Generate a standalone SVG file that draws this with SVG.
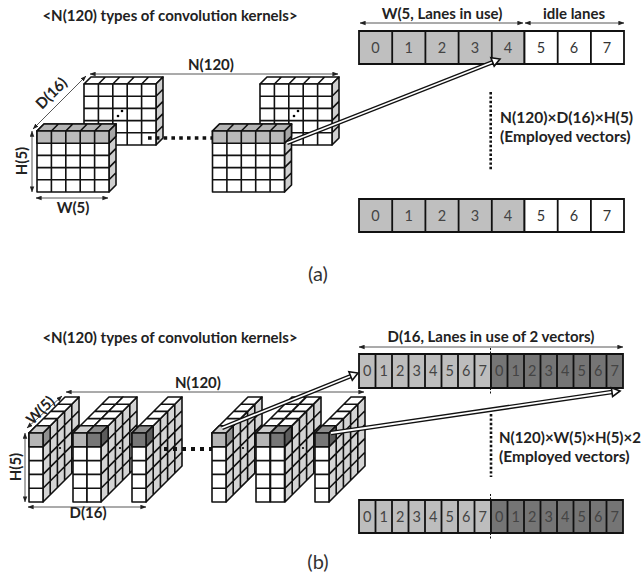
<svg xmlns="http://www.w3.org/2000/svg" width="644" height="576" viewBox="0 0 644 576">
<style>
text{font-family:"Lato","Open Sans","Liberation Sans",sans-serif;fill:#222}
.b{font-weight:700;font-size:15.5px}
.b2{font-weight:700;font-size:15px}
.c{font-weight:700;font-size:15px;text-anchor:middle}
.n{font-size:14.5px;text-anchor:middle;fill:#444}
.n2{font-size:14.5px;text-anchor:middle;fill:#333}
.cap{font-size:20px;text-anchor:middle;fill:#333}
.g{stroke:#111;stroke-width:1.6;fill:#fff;stroke-linejoin:round}
.dim{stroke:#444;stroke-width:.9;fill:none;marker-start:url(#ah);marker-end:url(#ah)}
.tk{stroke:#111;stroke-width:4.5;fill:none}
.wh{stroke:#fff;stroke-width:1.8;fill:none}
.hd{stroke:#111;stroke-width:1.6;fill:#fff}
.bar{stroke:#111;stroke-width:1.8}
</style>
<defs>
<marker id="ah" viewBox="0 0 8 6" refX="7.5" refY="3" markerWidth="6" markerHeight="5" orient="auto-start-reverse" markerUnits="userSpaceOnUse"><path d="M0 0L8 3L0 6z" fill="#222"/></marker>
<g id="cube">
<path class="g" d="M0 0h72l7-7h-72zM14.4 0l7-7M28.8 0l7-7M43.2 0l7-7M57.6 0l7-7"/>
<path class="g" style="fill:#cfcfcf" d="M72 0l7-7v61l-7 7zM72 12.2l7-7M72 24.4l7-7M72 36.6l7-7M72 48.8l7-7"/>
<path class="g" d="M0 0h72v61h-72zM14.4 0v61M28.8 0v61M43.2 0v61M57.6 0v61M0 12.2h72M0 24.4h72M0 36.6h72M0 48.8h72"/>
</g>
<g id="grow">
<path class="g" style="fill:#b4b4b4" d="M0 0h72l7-7h-72zM14.4 0l7-7M28.8 0l7-7M43.2 0l7-7M57.6 0l7-7"/>
<path class="g" style="fill:#a6a6a6" d="M72 0l7-7v12.2l-7 7z"/>
<path class="g" style="fill:#bababa" d="M0 0h72v12.2h-72zM14.4 0v12.2M28.8 0v12.2M43.2 0v12.2M57.6 0v12.2"/>
</g>
<g id="side">
<path class="g" style="fill:#d4d4d4" d="M0 0l36-36v69l-36 36zM7.2-7.2v69M14.4-14.4v69M21.6-21.6v69M28.8-28.8v69M0 13.8l36-36M0 27.6l36-36M0 41.4l36-36M0 55.2l36-36"/>
</g>
<g id="col">
<path class="g" d="M0 0h14l36-36h-14zM7.2-7.2h14M14.4-14.4h14M21.6-21.6h14M28.8-28.8h14"/>
<path class="g" d="M0 0h14v69h-14zM0 13.8h14M0 27.6h14M0 41.4h14M0 55.2h14"/>
</g>
<g id="cL"><path class="g" style="fill:#cdcdcd" d="M0 0h14l7.2-7.2h-14z"/><rect class="g" style="fill:#b5b5b5" width="14" height="13.800"/></g>
<g id="cD"><path class="g" style="fill:#8c8c8c" d="M0 0h14l7.2-7.2h-14z"/><path class="g" style="fill:#5c5c5c" d="M14 0l7.2-7.2v13.8l-7.2 7.2z"/><rect class="g" style="fill:#777" width="14" height="13.800"/></g>
<path id="sL" class="g" style="fill:#909090" d="M0 0l7.2-7.2v13.8l-7.2 7.2z"/>
</defs>
<rect width="644" height="576" fill="#fff"/>

<g id="connectors">
<path class="dim" d="M90 74H338"/>
<path class="dim" d="M33 129L86 76"/>
<path class="dim" d="M32 131V192"/>
<path class="dim" d="M36 198H108"/>
<path class="dim" d="M360 23H523"/>
<path class="dim" d="M525 23H624"/>
<path class="dim" d="M66 392H364"/>
<path class="dim" d="M27 428L62 396"/>
<path class="dim" d="M25 433V502"/>
<path class="dim" d="M28 507H146"/>
<path class="dim" d="M359 347H623"/>
</g>

<g id="kernels-a">
<g id="a-back-1"><use href="#cube" x="84" y="84"/><circle cx="118" cy="116" r="1.300"/><circle cx="122" cy="111" r="1.300"/></g>
<g id="a-back-2"><use href="#cube" x="260" y="84"/><circle cx="294" cy="116" r="1.300"/><circle cx="298" cy="111" r="1.300"/></g>
<g id="a-front-1"><use href="#cube" x="37" y="131"/><use href="#grow" x="37" y="131"/></g>
<path id="a-dots" d="M148 138H212" stroke="#111" stroke-width="3.600" stroke-dasharray="3.600 4.200" fill="none"/>
<g id="a-front-2"><use href="#cube" x="212.500" y="131"/><use href="#grow" x="212.500" y="131"/></g>
</g>

<g id="kernels-b">
<g id="b-s1"><use href="#side" x="43" y="433"/><use href="#col" x="29" y="433"/><use href="#sL" x="43" y="433"/><use href="#cL" x="29" y="433"/></g>
<circle cx="60" cy="448" r="1.100"/>
<g id="b-s2"><use href="#side" x="101" y="433"/><use href="#col" x="73" y="433"/><use href="#col" x="87" y="433"/><use href="#cL" x="73" y="433"/><use href="#cD" x="87" y="433"/></g>
<circle cx="120" cy="448" r="1.100"/>
<g id="b-s3"><use href="#side" x="146" y="433"/><use href="#col" x="132" y="433"/><use href="#cD" x="132" y="433"/></g>
<path id="b-dots" d="M164 449H212" stroke="#111" stroke-width="4" stroke-dasharray="4 5" fill="none"/>
<g id="b-s4"><use href="#side" x="226" y="433"/><use href="#col" x="212" y="433"/><use href="#sL" x="226" y="433"/><use href="#cL" x="212" y="433"/></g>
<circle cx="243" cy="448" r="1.100"/>
<g id="b-s5"><use href="#side" x="285" y="433"/><use href="#col" x="256" y="433"/><use href="#col" x="270.500" y="433"/><use href="#cL" x="256" y="433"/><use href="#cD" x="270.500" y="433"/></g>
<circle cx="303" cy="448" r="1.100"/>
<g id="b-s6"><use href="#side" x="329" y="433"/><use href="#col" x="315" y="433"/><use href="#cD" x="315" y="433"/></g>
</g>

<g id="bar-a1">
<path class="bar" fill="#bfbfbf" d="M359 31H524.500V64H359z"/><path class="bar" fill="#fff" d="M524.500 31H624V64H524.500z"/>
<path class="bar" fill="none" d="M392.200 31V64M425.400 31V64M458.600 31V64M491.800 31V64M557.700 31V64M590.900 31V64"/>
<g class="nums"><text class="n" x="375.500" y="53">0</text><text class="n" x="408.800" y="53">1</text><text class="n" x="442" y="53">2</text><text class="n" x="475" y="53">3</text><text class="n" x="508" y="53">4</text><text class="n2" x="541" y="53">5</text><text class="n2" x="574" y="53">6</text><text class="n2" x="607" y="53">7</text></g>
</g>
<g id="bar-a2">
<path class="bar" fill="#bfbfbf" d="M359 199H524.500V232H359z"/><path class="bar" fill="#fff" d="M524.500 199H624V232H524.500z"/>
<path class="bar" fill="none" d="M392.200 199V232M425.400 199V232M458.600 199V232M491.800 199V232M557.700 199V232M590.900 199V232"/>
<g class="nums"><text class="n" x="375.500" y="221">0</text><text class="n" x="408.800" y="221">1</text><text class="n" x="442" y="221">2</text><text class="n" x="475" y="221">3</text><text class="n" x="508" y="221">4</text><text class="n2" x="541" y="221">5</text><text class="n2" x="574" y="221">6</text><text class="n2" x="607" y="221">7</text></g>
</g>
<g id="bar-b1">
<path class="bar" fill="#bdbdbd" d="M359 354H491V388H359z"/><path class="bar" fill="#757575" d="M491 354H623V388H491z"/>
<path class="bar" fill="none" d="M375.500 354V388M392 354V388M408.500 354V388M425 354V388M441.500 354V388M458 354V388M474.500 354V388M507.500 354V388M524 354V388M540.500 354V388M557 354V388M573.500 354V388M590 354V388M606.500 354V388"/>
<g class="nums"><text class="n" x="367.300" y="376">0</text><text class="n" x="383.800" y="376">1</text><text class="n" x="400.300" y="376">2</text><text class="n" x="416.800" y="376">3</text><text class="n" x="433.300" y="376">4</text><text class="n" x="449.800" y="376">5</text><text class="n" x="466.300" y="376">6</text><text class="n" x="482.800" y="376">7</text><text class="n" x="499.300" y="376">0</text><text class="n" x="515.800" y="376">1</text><text class="n" x="532.300" y="376">2</text><text class="n" x="548.800" y="376">3</text><text class="n" x="565.300" y="376">4</text><text class="n" x="581.800" y="376">5</text><text class="n" x="598.300" y="376">6</text><text class="n" x="614.800" y="376">7</text></g>
</g>
<g id="bar-b2">
<path class="bar" fill="#bdbdbd" d="M359 500H491V533H359z"/><path class="bar" fill="#757575" d="M491 500H623V533H491z"/>
<path class="bar" fill="none" d="M375.500 500V533M392 500V533M408.500 500V533M425 500V533M441.500 500V533M458 500V533M474.500 500V533M507.500 500V533M524 500V533M540.500 500V533M557 500V533M573.500 500V533M590 500V533M606.500 500V533"/>
<g class="nums"><text class="n" x="367.300" y="522">0</text><text class="n" x="383.800" y="522">1</text><text class="n" x="400.300" y="522">2</text><text class="n" x="416.800" y="522">3</text><text class="n" x="433.300" y="522">4</text><text class="n" x="449.800" y="522">5</text><text class="n" x="466.300" y="522">6</text><text class="n" x="482.800" y="522">7</text><text class="n" x="499.300" y="522">0</text><text class="n" x="515.800" y="522">1</text><text class="n" x="532.300" y="522">2</text><text class="n" x="548.800" y="522">3</text><text class="n" x="565.300" y="522">4</text><text class="n" x="581.800" y="522">5</text><text class="n" x="598.300" y="522">6</text><text class="n" x="614.800" y="522">7</text></g>
</g>

<g id="dotted">
<path d="M490.700 92V170" stroke="#111" stroke-width="2.600" stroke-dasharray="2.400 2" fill="none"/>
<path d="M491 414V477" stroke="#111" stroke-width="2.600" stroke-dasharray="2.400 2" fill="none"/>
<path d="M490.500 348V354M490.500 388V395M490.500 494V500M490.500 533V540" stroke="#111" stroke-width="1" stroke-dasharray="2 1.500" fill="none"/>
</g>

<g id="arrows">
<g id="arrow-a"><path class="tk" d="M287 143L493 62"/><path class="wh" d="M287 143L493 62"/><path class="hd" d="M500 59L494.200 66.100L490.900 57.700z"/></g>
<g id="arrow-b1"><path class="tk" d="M222 428L351 376"/><path class="wh" d="M222 428L351 376"/><path class="hd" d="M358 373L352.300 380.200L348.900 371.800z"/></g>
<g id="arrow-b2"><path class="tk" d="M331 433L612 392"/><path class="wh" d="M331 433L612 392"/><path class="hd" d="M620 391L612.600 396.600L611.400 387.700z"/></g>
</g>

<g id="labels">
<text class="c" x="170" y="21">&lt;N(120) types of convolution kernels&gt;</text>
<text class="c" x="211" y="70">N(120)</text>
<text class="c" transform="translate(55 97) rotate(-45)">D(16)</text>
<text class="c" transform="translate(27 161) rotate(-90)">H(5)</text>
<text class="c" x="73" y="213">W(5)</text>
<text class="c" x="442" y="19">W(5, Lanes in use)</text>
<text class="c" x="574" y="19">idle lanes</text>
<text class="b" x="500" y="123">N(120)×D(16)×H(5)</text>
<text class="b" x="500" y="142">(Employed vectors)</text>
<text class="cap" x="318" y="281">(a)</text>
<text class="c" x="170" y="343">&lt;N(120) types of convolution kernels&gt;</text>
<text class="c" x="198" y="388">N(120)</text>
<text class="c" transform="translate(44 414) rotate(-45)">W(5)</text>
<text class="c" transform="translate(21 467) rotate(-90)">H(5)</text>
<text class="c" x="88" y="518">D(16)</text>
<text class="c" x="491" y="342">D(16, Lanes in use of 2 vectors)</text>
<text class="b2" x="499" y="443">N(120)×W(5)×H(5)×2</text>
<text class="b" x="499" y="462">(Employed vectors)</text>
<text class="cap" x="318" y="569">(b)</text>
</g>
</svg>
